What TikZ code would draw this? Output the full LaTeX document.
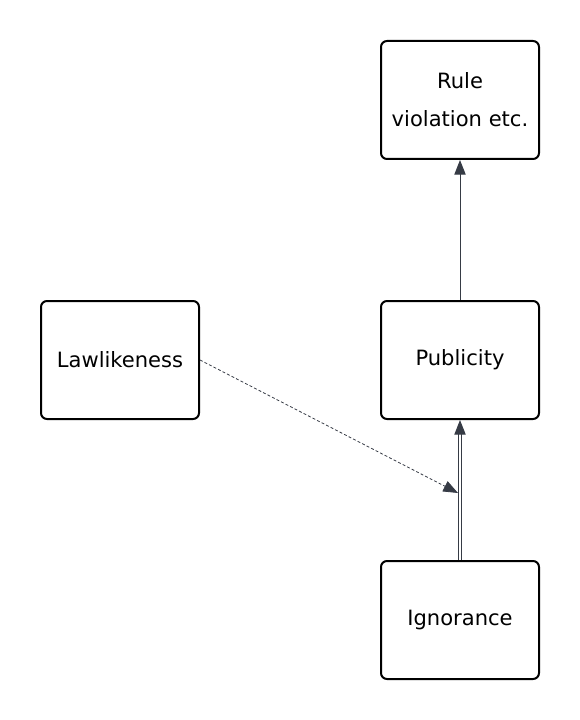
\documentclass[tikz,border=0pt]{standalone}
\usepackage{fontspec}
\setmainfont{DejaVu Sans}
\usetikzlibrary{arrows.meta,calc}
\definecolor{arrcol}{HTML}{363B45}
\tikzset{
  box/.style={draw=black, line width=1.5pt, rounded corners=4.5pt, minimum width=118.5pt, minimum height=88.5pt, inner sep=0pt, align=center, font=\fontsize{15.8pt}{28.5pt}\selectfont},
  tip/.style={-{Triangle[length=11pt,width=8.5pt]}},
  conn/.style={tip, draw=arrcol, line width=0.75pt},
  dbl/.style={tip, draw=arrcol, double=white, double distance=0.9pt, line width=0.75pt},
  dsh/.style={tip, draw=arrcol, line width=0.6pt, dash pattern=on 2.2pt off 1.6pt},
}
\begin{document}
\begin{tikzpicture}[x=0.75pt,y=-0.75pt]
\useasboundingbox (0,0) rectangle (580,720);
\node[box] (rule) at (460,100) {Rule\\violation etc.};
\node[box] (pub) at (460,360) {Publicity};
\node[box] (law) at (120,360) {Lawlikeness};
\node[box] (ign) at (460,620) {Ignorance};
\coordinate (hit) at (458,493);
\draw[conn] (pub.north) -- (rule.south);
\draw[dbl] (ign.north) -- (pub.south);
\draw[dsh] (law.east) -- (hit);
\end{tikzpicture}
\end{document}
